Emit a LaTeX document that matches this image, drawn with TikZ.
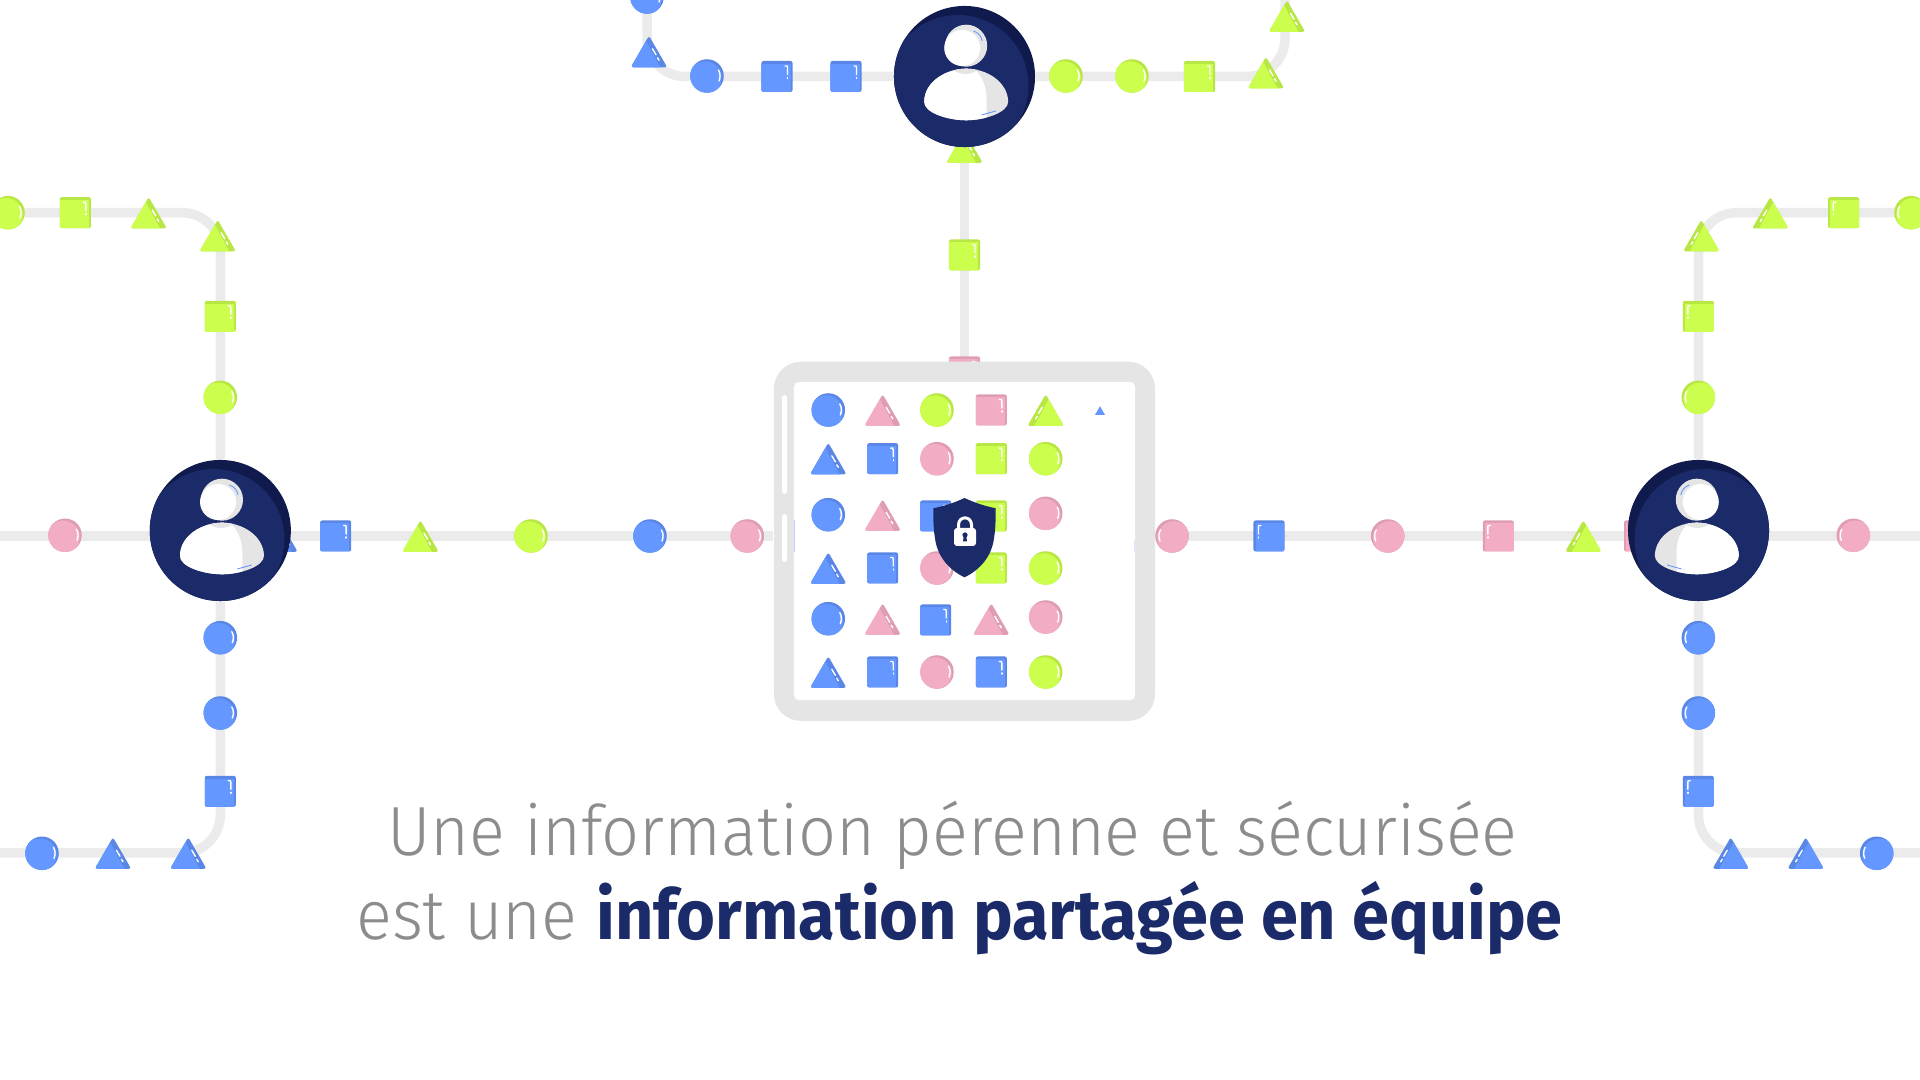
\documentclass[tikz,border=0pt]{standalone}
\usepackage{fontspec}
\usepackage{tikz}
\usetikzlibrary{shapes,shapes.geometric,positioning,calc,backgrounds}
\newfontfamily\lightfont[FakeStretch=0.958]{Fira Sans Light}
\newfontfamily\heavyfont[FakeStretch=0.958]{Fira Sans Bold}

\definecolor{bluelt}{HTML}{6497FF}
\definecolor{bluedk}{HTML}{5A87E5}
\definecolor{pinklt}{HTML}{F2ADC5}
\definecolor{pinkdk}{HTML}{DE9DB5}
\definecolor{greenlt}{HTML}{CCFF4D}
\definecolor{greendk}{HTML}{B8E645}
\definecolor{navylt}{HTML}{1B2A68}
\definecolor{navydk}{HTML}{101A4C}
\definecolor{trackgray}{HTML}{EBEBEB}
\definecolor{framegray}{HTML}{E5E5E5}
\definecolor{textgray}{HTML}{8C8C8C}

\begin{document}
\begin{tikzpicture}[
  x=0.01cm, y=-0.01cm,
  shine/.style={white, line width=0.4pt, line cap=round},
  track/.style={trackgray, line width=0.095cm},
  cornertrack/.style={track, rounded corners=0.38cm},
  ballbase/.style 2 args={circle, inner sep=0pt, minimum size=0.335cm, fill=#1dk,
    path picture={
      \begin{scope}[shift={(path picture bounding box.center)}, x=#2]
        \fill[#1lt] (-2,2) circle[radius=16.7];
        \draw[shine] (11.5,-6) .. controls (13.5,-3) and (13.5,2) .. (12,5);
      \end{scope}}},
  boxbase/.style 2 args={rectangle, inner sep=0pt, minimum size=0.31cm, rounded corners=0.02cm, fill=#1dk,
    path picture={
      \begin{scope}[shift={(path picture bounding box.center)}, x=#2, sharp corners]
        \fill[#1lt] (-16,-12.5) rectangle (13.5,16);
        \draw[shine] (8,-10.5) -- (10,-10.5) -- (10.5,-9) -- (10.5,-2);
        \draw[shine] (10.5,1) -- (10.5,2);
      \end{scope}}},
  tribase/.style 2 args={regular polygon, regular polygon sides=3, inner sep=0pt, minimum size=0.42cm,
    rounded corners=0.025cm, yshift=-0.053cm, fill=#1dk,
    path picture={
      \begin{scope}[shift={(path picture bounding box.center)}, x=#2, sharp corners]
        \fill[#1lt] (-3.5,-17) -- (15,17) -- (-24,17) -- cycle;
        \draw[shine] (3.5,-8) -- (7,-2);
        \draw[shine] (8.5,1) -- (10,3.5);
      \end{scope}}},
  ball/.style={ballbase={#1}{0.01cm}},
  ballr/.style={ballbase={#1}{-0.01cm}},
  box/.style={boxbase={#1}{0.01cm}},
  boxr/.style={boxbase={#1}{-0.01cm}},
  tri/.style={tribase={#1}{0.01cm}},
  trir/.style={tribase={#1}{-0.01cm}},
  usernode/.style={circle, inner sep=0pt, minimum size=1.41cm, fill=navydk,
    path picture={
      \begin{scope}[shift={(path picture bounding box.center)}, x=#1]
        \fill[navylt] (-6.5,9) circle[radius=70.5];
        \begin{scope}
          \path[clip] (-40.3,25) .. controls (-40,5) and (-18,-7.8) .. (1.7,-7.8)
            .. controls (22,-7.8) and (43,5) .. (43.7,25)
            .. controls (44,36) and (20,43.8) .. (1.7,43.8)
            .. controls (-17,43.8) and (-41,36) .. (-40.3,25) -- cycle;
          \fill[framegray] (-45,-10) rectangle (50,50);
          \fill[white] (-50,-10) -- (6,-10) .. controls (16,-4) and (22,8) .. (22,22)
            -- (22,50) -- (-50,50) -- cycle;
          \fill[framegray] (1,-22.5) circle[radius=20];
        \end{scope}
        \fill[framegray] (1.7,-30.8) circle[radius=21];
        \fill[white] (-2.3,-28.5) circle[radius=18];
        \draw[bluelt, line width=0.25pt] (9,-45.5) .. controls (14,-44) and (17,-40) .. (17.7,-35.5);
        \draw[bluelt, line width=0.25pt] (17,38.5) -- (31.4,34.5);
      \end{scope}}},
  screenbar/.style={rectangle, fill=white, inner sep=0pt, minimum width=0.05cm, rounded corners=0.025cm},
  textline/.style={anchor=base, inner sep=0pt, text=textgray,
    font=\lightfont\fontsize{19.8}{24}\selectfont}
]
\useasboundingbox (0,0) rectangle (1920,1080);

% Free ends of the tracks
\coordinate (mainL) at (0,536);
\coordinate (mainR) at (1920,536);
\coordinate (topL)  at (0,212.7);
\coordinate (topR)  at (1920,212.7);
\coordinate (lowL)  at (0,853);
\coordinate (lowR)  at (1920,853);
\coordinate (upA)   at (647,0);
\coordinate (upB)   at (1285,0);

% Shapes hidden behind users and tablet
\node[box=pink] (hidT) at (964.5,372) {};
\node[tri=green] (hidU) at (964.5,147) {};
\node[tri=blue] (hidL) at (279.5,536) {};
\node[tri=green] (hidLt) at (220.3,474.5) {};
\node[trir=green] (hidRt) at (1698.3,474.5) {};
\node[boxr=pink] (hidR) at (1639.5,536) {};

% Users
\node[usernode=0.01cm] (userL) at (220.3,530.5) {};
\node[usernode=0.01cm] (userT) at (964.5,76.5) {};
\node[usernode=-0.01cm] (userR) at (1698.5,530.5) {};

% Tablet
\node[rectangle, fill=framegray, inner sep=0pt, minimum width=3.81cm, minimum height=3.59cm,
  rounded corners=0.27cm] (tablet) at (964.5,541.3) {};
\node[rectangle, fill=white, inner sep=0pt, minimum width=3.41cm, minimum height=3.18cm,
  rounded corners=0.05cm] (screen) at (964.5,541) {};
\node[screenbar, minimum height=0.99cm] (barA) at (784.5,444.5) {};
\node[screenbar, minimum height=0.48cm] (barB) at (784.5,538) {};
\node[rectangle, fill=bluelt!45, inner sep=0pt, minimum width=0.012cm, minimum height=0.32cm] (edgeA) at (794.5,536) {};
\node[rectangle, fill=bluelt!25, inner sep=0pt, minimum width=0.012cm, minimum height=0.12cm] (edgeB) at (1134.5,546) {};

% Grid
\node[ball=blue]  (a1) at (828.3,410) {};
\node[tri=pink]   (a2) at (882.7,410) {};
\node[ball=green] (a3) at (937,410) {};
\node[box=pink]   (a4) at (991.3,410) {};
\node[trir=green] (a5) at (1045.7,410) {};
\node[regular polygon, regular polygon sides=3, inner sep=0pt, minimum size=0.115cm,
  fill=bluelt, yshift=-0.015cm] (a6) at (1100,410.5) {};
\node[tri=blue]   (b1) at (828.3,458.5) {};
\node[box=blue]   (b2) at (882.7,458.7) {};
\node[ball=pink]  (b3) at (937,458.7) {};
\node[box=green]  (b4) at (991.3,458.7) {};
\node[ball=green] (b5) at (1045.7,458.7) {};
\node[ball=blue]  (c1) at (828.3,514.7) {};
\node[tri=pink]   (c2) at (882.7,515) {};
\node[box=blue]   (c3) at (935.7,516) {};
\node[box=green]  (c4) at (991.3,516) {};
\node[ball=pink]  (c5) at (1045.7,513.3) {};
\node[tri=blue]   (d1) at (828.3,568) {};
\node[box=blue]   (d2) at (882.7,568) {};
\node[ball=pink]  (d3) at (937,568) {};
\node[box=green]  (d4) at (991.3,568) {};
\node[ball=green] (d5) at (1045.7,568) {};
\node[ball=blue]  (e1) at (828.3,618.7) {};
\node[tri=pink]   (e2) at (882.7,619) {};
\node[box=blue]   (e3) at (935.7,620) {};
\node[tri=pink]   (e4) at (991.3,619) {};
\node[ball=pink]  (e5) at (1045.7,617) {};
\node[tri=blue]   (f1) at (828.3,672) {};
\node[box=blue]   (f2) at (882.7,672) {};
\node[ball=pink]  (f3) at (937,672) {};
\node[box=blue]   (f4) at (991.3,672) {};
\node[ball=green] (f5) at (1045.7,672) {};

% Shield
\fill[navylt] (964.5,498) .. controls (975,503) and (985,506) .. (995.7,508.3)
  .. controls (995.7,520) and (995.5,530) .. (994,538)
  .. controls (992,556) and (980,570) .. (964.5,577.3)
  .. controls (949,570) and (937,556) .. (935,538)
  .. controls (933.5,530) and (933.3,520) .. (933.3,508.3)
  .. controls (944,506) and (954,503) .. (964.5,498) -- cycle;
\node[rectangle, fill=white, inner sep=0pt, minimum width=0.22cm, minimum height=0.18cm,
  rounded corners=0.03cm] (lockbody) at (965,537) {};
\draw[white, line width=0.85pt] (958.5,530) -- (958.5,525)
  .. controls (958.5,515.5) and (971.5,515.5) .. (971.5,525) -- (971.5,530);
\fill[navylt] (965,535) circle[radius=2.6];
\fill[navylt] (963.8,535) -- (966.2,535) -- (967,541.5) -- (963,541.5) -- cycle;

% Top line
\node[ball=blue]  (t1) at (647,-3) {};
\node[tri=blue]   (t2) at (649,51.5) {};
\node[ball=blue]  (t3) at (707,76) {};
\node[box=blue]   (t4) at (777,76.5) {};
\node[box=blue]   (t5) at (846,76.5) {};
\node[ball=green] (t6) at (1066,76) {};
\node[ball=green] (t7) at (1132,76) {};
\node[box=green]  (t8) at (1199.5,76.5) {};
\node[tri=green]  (t9) at (1266,72.5) {};
\node[tri=green]  (t10) at (1287,16) {};
\node[box=green]  (t11) at (964.5,255) {};

% Left user
\node[ball=pink]  (l1) at (65,535.3) {};
\node[box=blue]   (l2) at (335.7,536) {};
\node[tri=green]  (l3) at (420.5,536) {};
\node[ball=green] (l4) at (531,536) {};
\node[ball=blue]  (l5) at (650,536) {};
\node[ball=pink]  (l6) at (747.3,536) {};
\node[ball=green] (l7) at (8,212.7) {};
\node[box=green]  (l8) at (75.3,212.7) {};
\node[tri=green]  (l9) at (148.7,212.7) {};
\node[tri=green]  (l10) at (217.7,235.5) {};
\node[box=green]  (l11) at (220.3,316.3) {};
\node[ball=green] (l12) at (220.3,397.3) {};
\node[ball=blue]  (l13) at (220.3,637.7) {};
\node[ball=blue]  (l14) at (220.3,713) {};
\node[box=blue]   (l15) at (220.3,791.3) {};
\node[tri=blue]   (l16) at (188.3,853) {};
\node[tri=blue]   (l17) at (113,853) {};
\node[ball=blue]  (l18) at (42,853.3) {};

% Right user
\node[ballr=pink]  (r1) at (1172,536) {};
\node[boxr=blue]   (r2) at (1269,536) {};
\node[ballr=pink]  (r3) at (1387.7,536) {};
\node[boxr=pink]   (r4) at (1498.3,536) {};
\node[trir=green]  (r5) at (1583.3,536) {};
\node[ballr=pink]  (r6) at (1853.3,535.3) {};
\node[ballr=green] (r7) at (1911,212.7) {};
\node[boxr=green]  (r8) at (1843.7,212.7) {};
\node[trir=green]  (r9) at (1770.3,212.7) {};
\node[trir=green]  (r10) at (1701.3,235.5) {};
\node[boxr=green]  (r11) at (1698.3,316.3) {};
\node[ballr=green] (r12) at (1698.3,397.3) {};
\node[ballr=blue]  (r13) at (1698.3,637.7) {};
\node[ballr=blue]  (r14) at (1698.3,713) {};
\node[boxr=blue]   (r15) at (1698.3,791.3) {};
\node[trir=blue]   (r16) at (1730.7,853) {};
\node[trir=blue]   (r17) at (1805.7,853) {};
\node[ballr=blue]  (r18) at (1876.7,853.3) {};

% Text
\node[textline] (lineA) at (952.5,856) {Une information pérenne et sécurisée};
\node[textline] (lineB) at (959.5,940) {est une {\heavyfont\color{navylt}information partagée en équipe}};

% Tracks
\begin{pgfonlayer}{background}
  \draw[track] (mainL) -- (mainL -| tablet.west);
  \draw[track] (mainR) -- (mainR -| tablet.east);
  \draw[track] (userT) -- (tablet);
  \draw[cornertrack] (topL) -| (userL);
  \draw[cornertrack] (lowL) -| (userL);
  \draw[cornertrack] (topR) -| (userR);
  \draw[cornertrack] (lowR) -| (userR);
  \draw[cornertrack] (upA) |- (userT);
  \draw[cornertrack] (upB) |- (userT);
\end{pgfonlayer}

\end{tikzpicture}
\end{document}
